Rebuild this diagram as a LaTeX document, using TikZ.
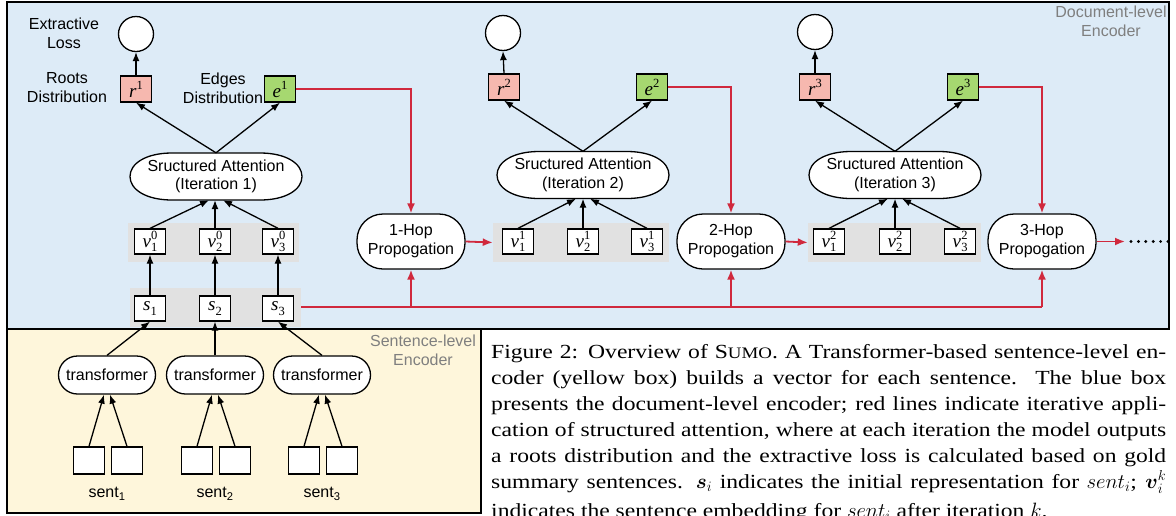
\documentclass[tikz,border=0pt]{standalone}
\usepackage{amsmath}
\usepackage{fontspec}
\setmainfont{Liberation Sans}
\newfontfamily\tfont{Liberation Serif}
\newfontfamily\capserif[FakeStretch=1.18]{Liberation Serif}
\usetikzlibrary{arrows.meta,shapes.geometric,calc}
\definecolor{docblue}{HTML}{DDEBF7}
\definecolor{sentyellow}{HTML}{FEF6DB}
\definecolor{rootpink}{HTML}{F6B8AF}
\definecolor{edgegreen}{HTML}{A6D870}
\definecolor{redline}{HTML}{D0293D}
\definecolor{rowgray}{HTML}{E1E1E1}
\definecolor{labgray}{HTML}{7F7F7F}
\newcommand{\msup}[2]{{\tfont\itshape #1}\raisebox{8pt}{\tfont\fontsize{12.5}{12.5}\selectfont #2}}
\newcommand{\msub}[2]{{\tfont\itshape #1}\raisebox{-4.5pt}{\tfont\fontsize{12.5}{12.5}\selectfont #2}}
\newcommand{\msupsub}[3]{{\tfont\itshape #1}\kern0.3pt{\tfont\fontsize{12.5}{12.5}\selectfont\makebox[0pt][l]{\raisebox{7.5pt}{#2}}\raisebox{-4.5pt}{#3}}}
\newcommand{\capline}[1]{\makebox[675pt][s]{#1}}
\newcommand{\drawattn}[1]{%
  \draw[line width=1.3pt, fill=white]
    ($(#1)+(-44,-23.5)$) -- ($(#1)+(44,-23.5)$)
    .. controls ($(#1)+(70,-23.5)$) and ($(#1)+(86,-13)$) .. ($(#1)+(86,0)$)
    .. controls ($(#1)+(86,13)$) and ($(#1)+(70,23.5)$) .. ($(#1)+(44,23.5)$)
    -- ($(#1)+(-44,23.5)$)
    .. controls ($(#1)+(-70,23.5)$) and ($(#1)+(-86,13)$) .. ($(#1)+(-86,0)$)
    .. controls ($(#1)+(-86,-13)$) and ($(#1)+(-70,-23.5)$) .. cycle;}
\begin{document}
\begin{tikzpicture}[x=1pt,y=-1pt,
  every node/.style={font=\fontsize{16}{19}\selectfont},
  lbl/.style={align=center, inner sep=0pt},
  glbl/.style={lbl, text=labgray},
  sq/.style={draw, line width=1.3pt, minimum width=31pt, minimum height=26pt, inner sep=0pt},
  wbox/.style={sq, fill=white, minimum height=27pt},
  rbox/.style={sq, fill=rootpink, font=\fontsize{19}{19}\selectfont},
  ebox/.style={sq, fill=edgegreen, font=\fontsize{19}{19}\selectfont},
  vbox/.style={sq, fill=white, minimum height=25pt, font=\fontsize{19}{19}\selectfont},
  lossc/.style={circle, draw, line width=1.3pt, fill=white, minimum size=35pt, inner sep=0pt},
  attn/.style={rectangle, minimum width=172pt, minimum height=47pt, inner sep=0pt, align=center, font=\fontsize{16}{18.5}\selectfont},
  hop/.style={rectangle, rounded corners=26pt, draw, line width=1.3pt, fill=white, minimum width=108pt, minimum height=55pt, inner sep=0pt, align=center},
  trans/.style={rectangle, rounded corners=19pt, draw, line width=1.3pt, fill=white, minimum width=97pt, minimum height=38pt, inner sep=0pt},
  grayrow/.style={fill=rowgray, inner sep=0pt, minimum height=39pt},
  arr/.style={-{Latex[length=9pt,width=7pt]}, line width=1.3pt},
  rarr/.style={-{Latex[length=10pt,width=8pt]}, line width=1.8pt, color=redline},
  rline/.style={line width=1.8pt, color=redline},
  capfont/.style={font=\capserif\fontsize{20}{25.8}\selectfont, inner sep=0pt, anchor=base west}
]
\useasboundingbox (0,0) rectangle (1176,515);
% encoder boxes
\draw[fill=docblue, line width=1.6pt] (7,2) rectangle (1169,329);
\draw[fill=sentyellow, line width=1.6pt] (7,329) rectangle (481,513);
\node[glbl] (doclbl) at (1111,21) {Document-level\\Encoder};
\node[glbl] (sentlbl) at (423,350) {Sentence-level\\Encoder};

% labels column 1
\node[lbl] (extl) at (64,33.5) {Extractive\\Loss};
\node[lbl] (rootl) at (67,88) {Roots\\Distribution};
\node[lbl] (edgel) at (223,88) {Edges\\Distribution};

% iteration 1
\node[lossc] (c1) at (136,34) {};
\node[rbox] (r1) at (136,89) {\msup{r}{1}};
\node[ebox] (e1) at (280,89) {\msup{e}{1}};
\coordinate (att1c) at (216,176.5);
\drawattn{att1c}
\node[attn] (att1) at (att1c) {Sructured Attention\\(Iteration 1)};
\node[grayrow, minimum width=171pt] (vrow1) at (213.5,242.5) {};
\node[vbox] (v10) at (150,241.5) {\msupsub{v}{0}{1}};
\node[vbox] (v20) at (215,241.5) {\msupsub{v}{0}{2}};
\node[vbox] (v30) at (278,241.5) {\msupsub{v}{0}{3}};
\node[grayrow, minimum width=171pt] (srow) at (215.5,307) {};
\node[vbox] (s1) at (150,308.5) {\msub{s}{1}};
\node[vbox] (s2) at (215,308.5) {\msub{s}{2}};
\node[vbox] (s3) at (278,308.5) {\msub{s}{3}};

% sentence-level encoder
\node[trans] (t1) at (107,375) {transformer};
\node[trans] (t2) at (215,375) {transformer};
\node[trans] (t3) at (322,375) {transformer};
\node[wbox] (w1a) at (89,460.5) {};
\node[wbox] (w1b) at (127,460.5) {};
\node[wbox] (w2a) at (197,460.5) {};
\node[wbox] (w2b) at (235,460.5) {};
\node[wbox] (w3a) at (304,460.5) {};
\node[wbox] (w3b) at (342,460.5) {};
\node[lbl] (sl1) at (107,494) {sent\textsubscript{1}};
\node[lbl] (sl2) at (215,494) {sent\textsubscript{2}};
\node[lbl] (sl3) at (322,494) {sent\textsubscript{3}};

% iteration 2
\node[lossc] (c2) at (503,33) {};
\node[rbox] (r2) at (504,87) {\msup{r}{2}};
\node[ebox] (e2) at (652,87) {\msup{e}{2}};
\coordinate (att2c) at (583,175);
\drawattn{att2c}
\node[attn] (att2) at (att2c) {Sructured Attention\\(Iteration 2)};
\node[hop] (hop1) at (411,241.5) {1-Hop\\Propogation};
\node[grayrow, minimum width=176pt] (vrow2) at (581,242.5) {};
\node[vbox] (v11) at (518,241.5) {\msupsub{v}{1}{1}};
\node[vbox] (v21) at (583,241.5) {\msupsub{v}{1}{2}};
\node[vbox] (v31) at (647,241.5) {\msupsub{v}{1}{3}};
\node[hop] (hop2) at (731,241.5) {2-Hop\\Propogation};

% iteration 3
\node[lossc] (c3) at (815,32) {};
\node[rbox] (r3) at (815,87) {\msup{r}{3}};
\node[ebox] (e3) at (963,87) {\msup{e}{3}};
\coordinate (att3c) at (895,175);
\drawattn{att3c}
\node[attn] (att3) at (att3c) {Sructured Attention\\(Iteration 3)};
\node[grayrow, minimum width=173pt] (vrow3) at (894.5,242.5) {};
\node[vbox] (v12) at (829,241.5) {\msupsub{v}{2}{1}};
\node[vbox] (v22) at (895,241.5) {\msupsub{v}{2}{2}};
\node[vbox] (v32) at (960,241.5) {\msupsub{v}{2}{3}};
\node[hop] (hop3) at (1042,241.5) {3-Hop\\Propogation};
\coordinate (cont) at (1125,241.5);

% black arrows
\foreach \i in {1,2,3}{
  \draw[arr] (r\i.north) -- (c\i.south);
  \draw[arr] (att\i.north) -- (r\i.south);
  \draw[arr] (att\i.north) -- (e\i.south);
}
\draw[arr] (v10.north) -- ($(att1.south)+(-7,0)$);
\draw[arr] (v20.north) -- (att1.south -| v20.north);
\draw[arr] (v30.north) -- ($(att1.south)+(7,0)$);
\draw[arr] (v11.north) -- ($(att2.south)+(-7,0)$);
\draw[arr] (v21.north) -- (att2.south);
\draw[arr] (v31.north) -- ($(att2.south)+(7,0)$);
\draw[arr] (v12.north) -- ($(att3.south)+(-7,0)$);
\draw[arr] (v22.north) -- (att3.south);
\draw[arr] (v32.north) -- ($(att3.south)+(7,0)$);
\draw[arr] (s1.north) -- (v10.south);
\draw[arr] (s2.north) -- (v20.south);
\draw[arr] (s3.north) -- (v30.south);
\draw[arr] (t1.north) -- (s1.south);
\draw[arr] (t2.north) -- (s2.south);
\draw[arr] (t3.north) -- (s3.south);
\draw[arr] (w1a.north) -- ($(t1.south)+(-3,0)$);
\draw[arr] (w1b.north) -- ($(t1.south)+(3,0)$);
\draw[arr] (w2a.north) -- ($(t2.south)+(-3,0)$);
\draw[arr] (w2b.north) -- ($(t2.south)+(3,0)$);
\draw[arr] (w3a.north) -- ($(t3.south)+(-3,0)$);
\draw[arr] (w3b.north) -- ($(t3.south)+(3,0)$);

% red connectors
\draw[rarr] (e1.east) -| (hop1.north);
\draw[rarr] (e2.east) -| (hop2.north);
\draw[rarr] (e3.east) -| (hop3.north);
\draw[rarr] (hop1.east) -- (vrow2.west);
\draw[rarr] (hop2.east) -- (vrow3.west);
\draw[rarr] (hop3.east) -- (cont);
\draw[rline] (srow.east) -- (hop3.south |- srow.east);
\draw[rarr] (hop1.south |- srow.east) -- (hop1.south);
\draw[rarr] (hop2.south |- srow.east) -- (hop2.south);
\draw[rarr] (hop3.south |- srow.east) -- (hop3.south);
\draw[line width=3.2pt, line cap=round, dash pattern=on 0pt off 7.4pt] ($(cont)+(6,0)$) -- ($(cont)+(43.5,0)$);

% caption
\node[capfont] (cap1) at (491,358.5) {\capline{Figure 2: Overview of S{\fontsize{16}{16}\selectfont UMO}. A Transformer-based sentence-level en-}};
\node[capfont] (cap2) at (491,384.5) {\capline{coder (yellow box) builds a vector for each sentence.\ \ The blue box}};
\node[capfont] (cap3) at (491,410.5) {\capline{presents the document-level encoder; red lines indicate iterative appli-}};
\node[capfont] (cap4) at (491,436.5) {\capline{cation of structured attention, where at each iteration the model outputs}};
\node[capfont] (cap5) at (491,462.5) {\capline{a roots distribution and the extractive loss is calculated based on gold}};
\node[capfont] (cap6) at (491,488.5) {\capline{summary sentences. $\boldsymbol{s}_i$ indicates the initial representation for $sent_i$; $\boldsymbol{v}_i^k$}};
\node[capfont] (cap7) at (491,517) {indicates the sentence embedding for $sent_i$ after iteration $k$.};
\end{tikzpicture}
\end{document}
